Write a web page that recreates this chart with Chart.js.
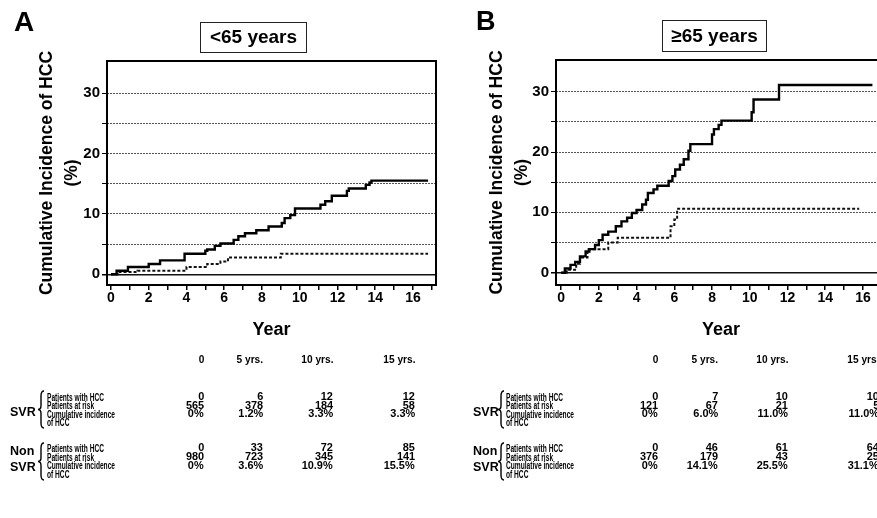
<!DOCTYPE html>
<html>
<head>
<meta charset="utf-8">
<title>Cumulative incidence of HCC by age</title>
<script src="https://cdn.jsdelivr.net/npm/chart.js"></script>
<style>
  html, body { margin: 0; padding: 0; background: #fff; }
  body { width: 877px; height: 518px; overflow: hidden; position: relative; font-family: "Liberation Sans", Arial, sans-serif; color: #000; }
  canvas { position: absolute; top: 0; }
  .t { position: absolute; white-space: nowrap; line-height: 1; color: #000; }
  .box { position: absolute; border: 1.5px solid #222; font-weight: bold; font-size: 19px; text-align: center; box-sizing: border-box; }
  svg { position: absolute; left: 0; top: 0; }
</style>
</head>
<body>
<canvas id="chartA" width="445" height="345" style="left:0px"></canvas>
<canvas id="chartB" width="450" height="345" style="left:450px"></canvas>
<div class="t" style="left:14px;top:8px;font-size:28px;font-weight:bold">A</div>
<div class="t" style="left:476px;top:8px;font-size:27px;font-weight:bold">B</div>
<div class="box" style="left:200px;top:22px;width:107px;height:31px;line-height:28px">&lt;65 years</div>
<div class="box" style="left:662px;top:20px;width:105px;height:32px;line-height:29px">≥65 years</div>
<svg id="braces" width="877" height="518"></svg>
<div id="tables"></div>

<script>
// ---- curve data (years since start, cumulative incidence %) ----
// panel A: <65 years
const aNonSvrYears = [0, 0.3, 0.9, 2.0, 2.6, 3.9, 5.0, 5.1, 5.5, 5.8, 6.5, 6.75, 7.1, 7.7, 8.35, 9.05, 9.2, 9.5, 9.75, 11.1, 11.35, 11.7, 12.5, 12.6, 13.5, 13.7, 13.8, 16.8];
const aNonSvrPct   = [0, 0.6, 1.2, 1.7, 2.3, 3.4, 3.9, 4.1, 4.7, 5.1, 5.7, 6.3, 6.8, 7.3, 7.9, 8.5, 9.3, 9.8, 10.9, 11.5, 12.1, 13.0, 13.8, 14.2, 14.8, 15.2, 15.5, 15.5];
const aSvrYears    = [0, 0.4, 1.4, 4.0, 5.1, 5.8, 6.2, 9.0, 16.8];
const aSvrPct      = [0, 0.4, 0.6, 1.2, 1.7, 2.1, 2.8, 3.4, 3.4];
// panel B: >=65 years
const bNonSvrYears = [0, 0.2, 0.5, 0.75, 1.0, 1.3, 1.5, 1.8, 2.0, 2.2, 2.5, 2.9, 3.2, 3.5, 3.75, 4.0, 4.3, 4.5, 4.6, 4.9, 5.1, 5.7, 5.9, 6.05, 6.3, 6.5, 6.75, 6.85, 8.0, 8.1, 8.35, 8.5, 10.1, 10.2, 11.55, 16.5];
const bNonSvrPct   = [0, 0.7, 1.3, 1.8, 2.7, 3.5, 3.9, 4.6, 5.4, 6.3, 6.8, 7.7, 8.5, 9.1, 9.9, 10.4, 11.3, 12.1, 13.2, 13.8, 14.4, 15.2, 16.0, 17.1, 17.9, 18.8, 20.2, 21.3, 22.9, 23.8, 24.5, 25.2, 26.6, 28.7, 31.1, 31.1];
const bSvrYears    = [0, 0.3, 0.8, 1.0, 1.4, 2.5, 3.0, 5.8, 6.0, 6.15, 15.8];
const bSvrPct      = [0, 0.5, 1.5, 2.5, 3.9, 5.0, 5.8, 7.7, 8.8, 10.6, 10.6];

const xTicks = [0, 1, 2, 3, 4, 5, 6, 7, 8, 9, 10, 11, 12, 13, 14, 15, 16, 17];
const yTicks = [0, 5, 10, 15, 20, 25, 30];

// ---- number-at-risk tables ----
const tableCols   = ['0', '5 yrs.', '10 yrs.', '15 yrs.'];
const rowLabels   = ['Patients with HCC', 'Patients at risk', 'Cumulative incidence'];
const aSvrWithHcc = ['0', '6', '12', '12'];
const aSvrAtRisk  = ['565', '378', '184', '58'];
const aSvrCumInc  = ['0%', '1.2%', '3.3%', '3.3%'];
const aNonWithHcc = ['0', '33', '72', '85'];
const aNonAtRisk  = ['980', '723', '345', '141'];
const aNonCumInc  = ['0%', '3.6%', '10.9%', '15.5%'];
const bSvrWithHcc = ['0', '7', '10', '10'];
const bSvrAtRisk  = ['121', '67', '21', '5'];
const bSvrCumInc  = ['0%', '6.0%', '11.0%', '11.0%'];
const bNonWithHcc = ['0', '46', '61', '64'];
const bNonAtRisk  = ['376', '179', '43', '25'];
const bNonCumInc  = ['0%', '14.1%', '25.5%', '31.1%'];

function pts(xs, ys) {
  return xs.map((x, i) => ({ x: x, y: ys[i] }));
}

// box round the plot area
const frame = {
  id: 'frame',
  afterDraw(chart) {
    const a = chart.chartArea, ctx = chart.ctx;
    ctx.save();
    ctx.strokeStyle = '#000';
    ctx.lineWidth = 2;
    ctx.strokeRect(a.left, a.top, a.right - a.left, a.bottom - a.top);
    ctx.restore();
  }
};

function makePanel(id, p) {
  new Chart(document.getElementById(id), {
    type: 'line',
    data: {
      datasets: [
        { label: 'Non SVR', data: pts(p.nonX, p.nonY), stepped: 'before', borderColor: '#000',
          borderWidth: 2.4, pointRadius: 0, fill: false },
        { label: 'SVR', data: pts(p.svrX, p.svrY), stepped: 'before', borderColor: '#111',
          borderWidth: 2, borderDash: [3, 2], pointRadius: 0, fill: false }
      ]
    },
    options: {
      responsive: false,
      animation: false,
      layout: { padding: { top: p.top, right: p.right, left: 0, bottom: 0 } },
      plugins: { legend: { display: false }, tooltip: { enabled: false } },
      scales: {
        x: {
          type: 'linear', min: p.xMin, max: p.xMax,
          afterBuildTicks: s => { s.ticks = xTicks.map(v => ({ value: v })); },
          afterFit: s => { s.height = 60; },
          grid: { drawOnChartArea: false, tickLength: 5, color: '#000', lineWidth: 1.5 },
          border: { display: false },
          ticks: { autoSkip: false, maxRotation: 0, padding: 0, color: '#000',
                   font: { size: 14, weight: 'bold' },
                   callback: v => (v % 2 === 0 ? String(v) : '') },
          title: { display: true, text: 'Year', color: '#000', padding: { bottom: 4 },
                   font: { size: 18, weight: 'bold' } }
        },
        y: {
          min: p.yMin, max: p.yMax,
          afterBuildTicks: s => { s.ticks = yTicks.map(v => ({ value: v })); },
          afterFit: s => { s.width = p.axisW; },
          grid: { color: c => (c.tick && c.tick.value === 0 ? '#111' : '#555'),
                  lineWidth: c => (c.tick && c.tick.value === 0 ? 1.5 : 1),
                  tickColor: '#000', tickLength: 5 },
          border: { display: false, dash: c => (c.tick && c.tick.value === 0 ? [] : [2, 1]) },
          ticks: { padding: 2, color: '#000', font: { size: 15, weight: 'bold' },
                   callback: v => (v % 10 === 0 ? String(v) : '') },
          title: { display: true, text: ['Cumulative Incidence of HCC', '(%)'], color: '#000',
                   padding: { top: 35 }, font: { size: 17.5, weight: 'bold', lineHeight: 1.42 } }
        }
      }
    },
    plugins: [frame]
  });
}

makePanel('chartA', { nonX: aNonSvrYears, nonY: aNonSvrPct, svrX: aSvrYears, svrY: aSvrPct,
  xMin: -0.21, xMax: 17.22, yMin: -1.77, yMax: 35.3, top: 61, right: 9, axisW: 107 });
makePanel('chartB', { nonX: bNonSvrYears, nonY: bNonSvrPct, svrX: bSvrYears, svrY: bSvrPct,
  xMin: -0.27, xMax: 17.22, yMin: -2.04, yMax: 35.25, top: 60, right: 14, axisW: 106 });

// ---- tables as html text ----
const holder = document.getElementById('tables');
function put(str, x, y, o) {
  const d = document.createElement('div');
  d.className = 't';
  d.textContent = str;
  const size = o.size || 11.5;
  d.style.fontSize = size + 'px';
  d.style.fontWeight = o.weight || 'bold';
  d.style.top = (y - size / 2) + 'px';
  const sx = o.sx || 1;
  if (o.align === 'right') {
    d.style.right = (877 - x) + 'px';
    d.style.transformOrigin = 'right center';
  } else {
    d.style.left = x + 'px';
    d.style.transformOrigin = 'left center';
  }
  if (sx !== 1) d.style.transform = 'scaleX(' + sx + ')';
  holder.appendChild(d);
}

const svg = document.getElementById('braces');
function brace(x, y0, y1) {
  const m = (y0 + y1) / 2;
  const p = document.createElementNS('http://www.w3.org/2000/svg', 'path');
  p.setAttribute('d', `M${x + 6},${y0} Q${x + 3},${y0} ${x + 3},${y0 + 5} L${x + 3},${m - 4} Q${x + 3},${m} ${x},${m} Q${x + 3},${m} ${x + 3},${m + 4} L${x + 3},${y1 - 5} Q${x + 3},${y1} ${x + 6},${y1}`);
  p.setAttribute('fill', 'none');
  p.setAttribute('stroke', '#000');
  p.setAttribute('stroke-width', '1.4');
  svg.appendChild(p);
}

const headerY = 360;
const svrRowsY = [397, 405.5, 414, 422.5];
const nonRowsY = [448, 457, 465.5, 474];

function table(t) {
  tableCols.forEach((c, i) => put(c, t.cols[i], headerY, { align: 'right', sx: 0.88 }));
  const blocks = [[t.svr, svrRowsY], [t.non, nonRowsY]];
  blocks.forEach(([rows, ys]) => {
    rowLabels.forEach((lab, r) => put(lab, t.labelX, ys[r], { size: 10.5, sx: 0.63 }));
    put('of HCC', t.labelX, ys[3], { size: 10.5, sx: 0.63 });
    rows.forEach((vals, r) => vals.forEach((v, i) => put(v, t.cols[i], ys[r], { align: 'right', sx: 0.95 })));
  });
  put('SVR', t.groupX, 412, { size: 12.5 });
  put('Non', t.groupX, 451, { size: 12.5 });
  put('SVR', t.groupX, 467, { size: 12.5 });
  brace(t.braceX, 391, 428);
  brace(t.braceX, 443, 480);
}

table({ cols: [204, 263, 333, 415], labelX: 47, groupX: 10, braceX: 38,
        svr: [aSvrWithHcc, aSvrAtRisk, aSvrCumInc], non: [aNonWithHcc, aNonAtRisk, aNonCumInc] });
table({ cols: [658, 718, 788, 879], labelX: 506, groupX: 473, braceX: 498,
        svr: [bSvrWithHcc, bSvrAtRisk, bSvrCumInc], non: [bNonWithHcc, bNonAtRisk, bNonCumInc] });
</script>
</body>
</html>
